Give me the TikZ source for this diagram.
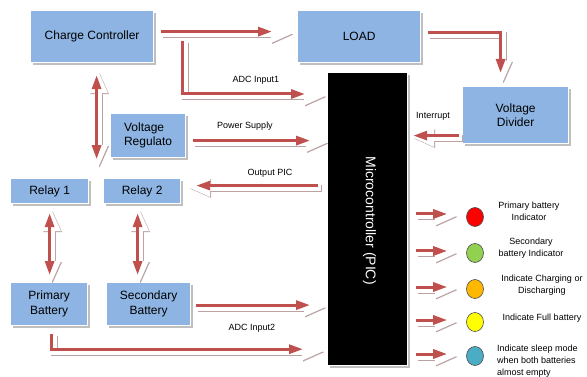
\documentclass[tikz,border=0pt]{standalone}
\usepackage{fontspec}
\setmainfont{Liberation Sans}
\usetikzlibrary{arrows.meta,calc,shadows,shapes.geometric}
\definecolor{boxblue}{HTML}{8DB4E2}
\definecolor{arrred}{HTML}{C0504D}
\definecolor{shcol}{HTML}{BBA3A3}
\definecolor{ledred}{HTML}{FF0000}
\definecolor{ledgreen}{HTML}{92D050}
\definecolor{ledorange}{HTML}{FFB800}
\definecolor{ledyellow}{HTML}{FFFF00}
\definecolor{ledblue}{HTML}{4BACC6}
\tikzset{
  whtip/.tip={Triangle[length=22pt,width=17pt]},
  redtip/.tip={Triangle[length=14pt,width=9pt]},
  box/.style={fill=boxblue, draw=white, line width=1.2pt,
    drop shadow={shadow xshift=2pt, shadow yshift=-2pt, fill=black!25, opacity=1},
    font=\fontsize{12}{14.5}\selectfont, align=center, inner sep=0pt, anchor=north west},
  lab/.style={font=\fontsize{9}{12}\selectfont, inner sep=0pt},
  led/.style={ellipse, draw=black!70, line width=0.6pt, minimum width=17pt, minimum height=19pt, inner sep=0pt},
  shout/.style={draw=shcol, line width=7pt, -whtip},
  shin/.style={draw=white, line width=7pt, -whtip},
  shoutd/.style={draw=shcol, line width=7pt, whtip-whtip},
  shind/.style={draw=white, line width=7pt, whtip-whtip},
  arr/.style={draw=arrred, line width=3pt, -redtip},
  arrd/.style={draw=arrred, line width=3pt, redtip-redtip},
}
% #1 = how far the white outline reaches past the red tip
\newcommand{\blockarrow}[2][14pt]{%
  \begin{scope}[transform canvas={xshift=3pt,yshift=-3pt}]\draw[shout, shorten >=-#1, shorten <=-1pt] #2;\end{scope}
  \begin{scope}[transform canvas={xshift=2pt,yshift=-2pt}]\draw[shin, shorten >=-#1, shorten <=-1pt] #2;\end{scope}
  \draw[arr] #2;}
\newcommand{\dblockarrow}[2][6pt]{%
  \begin{scope}[transform canvas={xshift=3pt,yshift=-3pt}]\draw[shoutd, shorten >=-#1, shorten <=-#1] #2;\end{scope}
  \begin{scope}[transform canvas={xshift=2pt,yshift=-2pt}]\draw[shind, shorten >=-#1, shorten <=-#1] #2;\end{scope}
  \draw[arrd] #2;}
\begin{document}
\begin{tikzpicture}[x=1pt,y=-1pt]
\useasboundingbox[fill=white] (0,0) rectangle (587,377);
% boxes
\node[box, minimum width=123pt, minimum height=52pt] (cc) at (30,10) {Charge Controller};
\node[box, minimum width=123pt, minimum height=52pt] (load) at (297,10) {LOAD};
\node[box, fill=black, minimum width=80pt, minimum height=293pt] (mc) at (327,72) {};
\node[box, minimum width=106pt, minimum height=57pt] (vd) at (462,86) {Voltage\\Divider};
\node[box, minimum width=75pt, minimum height=44pt, align=left] (vr) at (110,113) {Voltage\\Regulato};
\node[box, minimum width=78pt, minimum height=25pt] (r1) at (10,178) {Relay 1};
\node[box, minimum width=77pt, minimum height=25pt] (r2) at (103,178) {Relay 2};
\node[box, minimum width=77pt, minimum height=43pt] (pb) at (10,282) {Primary\\Battery};
\node[box, minimum width=84pt, minimum height=43pt] (sb) at (106,282) {Secondary\\Battery};
% LEDs
\node[led, fill=ledred] (l1) at (475,217) {};
\node[led, fill=ledgreen] (l2) at (475,253) {};
\node[led, fill=ledorange] (l3) at (475,289) {};
\node[led, fill=ledyellow] (l4) at (475,322) {};
\node[led, fill=ledblue] (l5) at (475,356) {};
% arrows
\blockarrow[19pt]{($(cc.east)+(7pt,5pt)$) -- ($(load.west)+(-25pt,5pt)$)}
\blockarrow[19pt]{($(cc.east)+(28pt,-4pt)$) |- ($(mc.north west)+(-22pt,-22pt)$)}
\dblockarrow{($(cc.south)+(4.5pt,-12pt)$) -- ($(cc.south)+(4.5pt,-96pt)$)}
\blockarrow[16pt]{($(vr.east)+(7pt,-5pt)$) -- ($(mc.west |- vr.east)+(-17pt,-5pt)$)}
\blockarrow[10pt]{($(mc.west |- r2.east)+(-9pt,5.5pt)$) -- ($(r2.east)+(15pt,5.5pt)$)}
\blockarrow[8pt]{($(load.east)+(7pt,4pt)$) -| ($(vd.north)+(-15pt,13pt)$)}
\blockarrow[3pt]{($(vd.west)+(-3pt,-20.5pt)$) -- ($(mc.east |- vd.west)+(5pt,-20.5pt)$)}
\dblockarrow{($(r1.south)+(0pt,-9pt)$) -- ($(r1.south |- pb.north)+(0pt,7pt)$)}
\dblockarrow{($(r2.south)+(-4.5pt,-9pt)$) -- ($(r2.south |- sb.north)+(-4.5pt,7pt)$)}
\blockarrow[14pt]{($(sb.east)+(5pt,-1pt)$) -- ($(mc.west |- sb.east)+(-17pt,-1pt)$)}
\blockarrow[19pt]{($(pb.south)+(2.5pt,-8pt)$) |- ($(mc.west |- pb.south)+(-24pt,-23pt)$)}
\blockarrow[8pt]{($(mc.east |- l1.center)+(8pt,3pt)$) -- ($(l1.west)+(-19pt,3pt)$)}
\blockarrow[8pt]{($(mc.east |- l2.center)+(8pt,2pt)$) -- ($(l2.west)+(-19pt,2pt)$)}
\blockarrow[8pt]{($(mc.east |- l3.center)+(8pt,2pt)$) -- ($(l3.west)+(-19pt,2pt)$)}
\blockarrow[8pt]{($(mc.east |- l4.center)+(8pt,2pt)$) -- ($(l4.west)+(-19pt,2pt)$)}
\blockarrow[8pt]{($(mc.east |- l5.center)+(8pt,2pt)$) -- ($(l5.west)+(-19pt,2pt)$)}
% microcontroller label
\node[rotate=-90, text=white, font=\fontsize{14}{16}\selectfont] (mctext) at ($(mc.center)+(2pt,-1.5pt)$) {Microcontroller (PIC)};
% labels
\node[lab] (adc1) at (256,80) {ADC Input1};
\node[lab] (ps) at (245,126) {Power Supply};
\node[lab] (opic) at (270,173) {Output PIC};
\node[lab] (intr) at (433,116) {Interrupt};
\node[lab] (adc2) at (252,328) {ADC Input2};
\node[lab, align=center] (t1) at (529,211) {Primary battery\\Indicator};
\node[lab, align=center] (t2) at (531,248) {Secondary\\battery Indicator};
\node[lab, align=center] (t3) at (542,285) {Indicate Charging or\\Discharging};
\node[lab] (t4) at (542,318) {Indicate Full battery};
\node[lab, align=left, anchor=west] (t5) at (497,361) {Indicate sleep mode\\when both batteries\\almost empty};
\end{tikzpicture}
\end{document}
